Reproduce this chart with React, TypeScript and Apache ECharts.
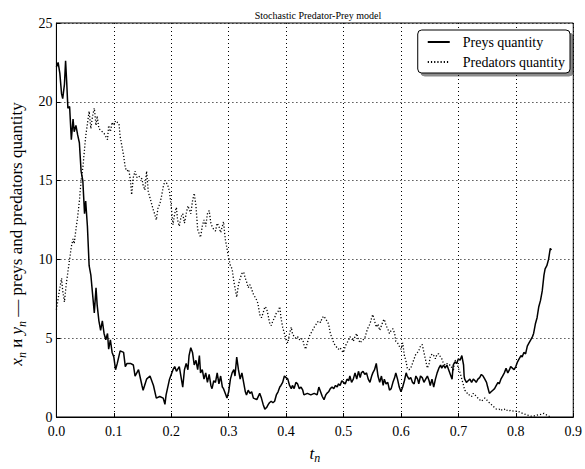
import React, { useEffect, useRef } from "react";
import * as echarts from "echarts";

const titleText = "Stochastic Predator-Prey model";
const seriesNames = ["Preys quantity", "Predators quantity"];
const xTicks = [0, 0.1, 0.2, 0.3, 0.4, 0.5, 0.6, 0.7, 0.8, 0.9];
const yTicks = [0, 5, 10, 15, 20, 25];

const preys: number[][] = [
  [0, 22.2], [0.003, 22.5], [0.006, 21.8], [0.009, 20.5], [0.011, 20.2], [0.014, 21.1], [0.016, 22.6], [0.018, 21.2],
  [0.02, 19.6], [0.023, 19.7], [0.026, 17.6], [0.029, 18.9], [0.031, 18.1], [0.034, 18.5], [0.037, 17.9], [0.04, 17.4],
  [0.043, 15.6], [0.046, 15.0], [0.049, 12.9], [0.051, 13.7], [0.054, 12.1], [0.057, 9.6], [0.06, 9.0], [0.063, 7.8],
  [0.066, 6.6], [0.069, 8.2], [0.071, 7.1], [0.074, 6.1], [0.077, 5.5], [0.08, 6.1], [0.083, 5.3], [0.086, 4.9],
  [0.089, 5.3], [0.091, 4.3], [0.094, 4.9], [0.097, 4.1], [0.1, 3.8], [0.103, 3.0], [0.106, 3.4], [0.111, 4.2],
  [0.117, 4.1], [0.12, 3.2], [0.123, 3.4], [0.129, 3.4], [0.134, 3.3], [0.137, 2.6], [0.143, 3.0], [0.149, 2.0],
  [0.151, 1.7], [0.157, 2.4], [0.163, 2.6], [0.169, 2.0], [0.174, 1.2], [0.18, 1.3], [0.186, 1.2], [0.189, 0.8],
  [0.191, 1.4], [0.197, 2.4], [0.203, 3.0], [0.206, 3.2], [0.209, 2.9], [0.214, 3.2], [0.22, 1.9], [0.223, 3.0],
  [0.226, 3.4], [0.229, 3.0], [0.231, 3.9], [0.234, 4.4], [0.237, 4.1], [0.24, 3.3], [0.243, 3.6], [0.246, 3.0],
  [0.249, 3.9], [0.251, 2.8], [0.254, 3.0], [0.257, 2.4], [0.26, 2.8], [0.263, 2.2], [0.266, 2.7], [0.269, 2.0],
  [0.271, 1.8], [0.274, 2.3], [0.277, 2.2], [0.28, 2.8], [0.283, 2.1], [0.286, 2.6], [0.289, 1.9], [0.291, 1.8],
  [0.294, 1.5], [0.297, 1.2], [0.3, 1.6], [0.303, 2.4], [0.306, 2.8], [0.309, 3.0], [0.311, 2.6], [0.314, 3.8],
  [0.317, 3.0], [0.32, 2.4], [0.323, 2.8], [0.326, 2.2], [0.329, 1.6], [0.331, 1.4], [0.334, 1.7], [0.337, 1.5],
  [0.34, 1.6], [0.343, 1.2], [0.349, 1.1], [0.354, 1.5], [0.357, 1.2], [0.36, 0.8], [0.363, 0.5], [0.366, 0.6],
  [0.369, 0.8], [0.371, 0.9], [0.374, 1.0], [0.377, 0.9], [0.38, 1.0], [0.383, 1.4], [0.386, 1.6], [0.389, 1.9],
  [0.391, 2.0], [0.394, 2.2], [0.397, 2.6], [0.4, 2.5], [0.403, 2.4], [0.406, 2.0], [0.409, 1.8], [0.411, 2.0],
  [0.414, 1.8], [0.417, 2.2], [0.42, 2.1], [0.423, 1.8], [0.426, 1.9], [0.429, 1.7], [0.431, 1.4], [0.437, 1.5],
  [0.443, 1.4], [0.449, 1.5], [0.454, 1.4], [0.457, 1.9], [0.46, 1.6], [0.463, 1.3], [0.466, 1.1], [0.469, 1.4],
  [0.471, 1.5], [0.474, 1.6], [0.477, 1.8], [0.48, 1.9], [0.483, 1.8], [0.486, 2.0], [0.489, 1.9], [0.491, 2.1],
  [0.494, 2.0], [0.497, 2.3], [0.5, 2.2], [0.503, 2.1], [0.506, 2.4], [0.509, 2.3], [0.511, 2.6], [0.514, 2.2],
  [0.517, 2.4], [0.52, 2.8], [0.523, 2.4], [0.526, 2.9], [0.529, 2.5], [0.531, 2.8], [0.534, 2.9], [0.537, 2.7],
  [0.54, 2.8], [0.543, 2.4], [0.546, 2.2], [0.549, 2.6], [0.551, 2.8], [0.554, 3.0], [0.557, 3.4], [0.56, 2.6],
  [0.563, 2.2], [0.566, 2.6], [0.569, 2.0], [0.571, 2.4], [0.574, 2.1], [0.577, 2.2], [0.58, 1.7], [0.583, 1.8],
  [0.586, 2.2], [0.589, 2.5], [0.591, 2.8], [0.594, 2.4], [0.597, 1.9], [0.6, 1.6], [0.603, 1.9], [0.606, 2.3],
  [0.609, 2.8], [0.611, 2.6], [0.614, 2.4], [0.617, 2.5], [0.62, 2.2], [0.623, 2.1], [0.626, 2.6], [0.629, 2.4],
  [0.631, 2.1], [0.634, 2.6], [0.637, 2.5], [0.64, 2.2], [0.643, 2.4], [0.646, 2.6], [0.649, 2.3], [0.651, 2.0],
  [0.654, 2.4], [0.657, 1.9], [0.66, 2.4], [0.663, 2.8], [0.666, 3.1], [0.669, 3.3], [0.671, 3.1], [0.674, 3.3],
  [0.677, 3.1], [0.68, 3.3], [0.683, 3.0], [0.686, 2.7], [0.689, 2.4], [0.691, 3.3], [0.694, 3.5], [0.697, 3.4],
  [0.7, 3.7], [0.703, 3.6], [0.706, 3.9], [0.709, 3.3], [0.71, 2.6], [0.711, 2.4], [0.714, 2.2], [0.717, 2.3],
  [0.72, 2.4], [0.723, 2.2], [0.726, 2.4], [0.729, 2.3], [0.731, 2.2], [0.734, 2.4], [0.737, 2.5], [0.74, 2.7],
  [0.743, 2.6], [0.746, 2.4], [0.749, 2.2], [0.751, 1.9], [0.754, 1.5], [0.757, 1.6], [0.76, 1.7], [0.763, 1.8],
  [0.766, 2.0], [0.769, 2.2], [0.771, 2.1], [0.774, 2.4], [0.777, 2.6], [0.78, 2.8], [0.783, 3.1], [0.786, 2.8],
  [0.789, 3.0], [0.791, 3.2], [0.794, 3.1], [0.797, 3.0], [0.8, 3.2], [0.803, 3.5], [0.806, 3.7], [0.809, 3.9],
  [0.811, 3.8], [0.814, 4.1], [0.817, 4.0], [0.82, 4.5], [0.823, 4.7], [0.826, 4.9], [0.829, 5.1], [0.831, 5.3],
  [0.834, 5.9], [0.837, 6.3], [0.84, 7.0], [0.843, 7.4], [0.846, 8.0], [0.849, 9.0], [0.851, 9.4], [0.854, 9.6],
  [0.857, 10.0], [0.86, 10.7], [0.862, 10.6],
];

const predators: number[][] = [
  [0, 6.8], [0.003, 7.5], [0.006, 8.2], [0.009, 8.8], [0.011, 8.0], [0.014, 7.3], [0.017, 8.4], [0.02, 9.2],
  [0.023, 10.0], [0.026, 10.8], [0.029, 11.3], [0.031, 11.0], [0.034, 11.9], [0.037, 12.7], [0.04, 13.7], [0.043, 15.0],
  [0.046, 15.8], [0.049, 17.0], [0.051, 17.8], [0.054, 18.6], [0.057, 19.4], [0.06, 18.3], [0.063, 19.1], [0.066, 19.6],
  [0.069, 18.5], [0.071, 19.1], [0.074, 18.3], [0.077, 18.2], [0.083, 18.0], [0.089, 17.6], [0.091, 18.5], [0.094, 18.1],
  [0.097, 18.7], [0.1, 18.5], [0.103, 18.8], [0.106, 18.7], [0.109, 18.6], [0.111, 17.8], [0.114, 17.2], [0.117, 16.6],
  [0.12, 15.8], [0.123, 15.6], [0.126, 15.7], [0.129, 15.0], [0.131, 14.1], [0.134, 15.2], [0.137, 15.6], [0.14, 15.2],
  [0.143, 15.3], [0.146, 15.2], [0.149, 15.1], [0.151, 14.7], [0.154, 14.4], [0.157, 15.6], [0.16, 14.3], [0.163, 13.9],
  [0.166, 13.5], [0.169, 13.1], [0.171, 12.9], [0.174, 12.5], [0.177, 13.3], [0.18, 13.5], [0.183, 14.0], [0.186, 14.6],
  [0.189, 15.0], [0.191, 14.9], [0.194, 14.7], [0.197, 14.3], [0.2, 13.3], [0.203, 12.2], [0.206, 12.9], [0.209, 13.3],
  [0.211, 12.5], [0.214, 12.1], [0.217, 12.7], [0.22, 12.9], [0.223, 12.3], [0.226, 12.9], [0.229, 13.4], [0.231, 13.2],
  [0.234, 12.9], [0.237, 13.7], [0.24, 14.2], [0.243, 13.4], [0.246, 11.9], [0.249, 11.6], [0.251, 11.4], [0.254, 12.1],
  [0.257, 12.5], [0.26, 12.1], [0.263, 12.9], [0.266, 13.1], [0.269, 12.3], [0.271, 12.1], [0.274, 11.9], [0.277, 11.8],
  [0.28, 12.3], [0.283, 12.1], [0.286, 11.7], [0.289, 12.1], [0.291, 12.4], [0.294, 11.3], [0.297, 10.7], [0.3, 10.1],
  [0.303, 9.6], [0.306, 9.4], [0.309, 8.6], [0.311, 8.2], [0.314, 7.6], [0.317, 8.4], [0.32, 8.8], [0.323, 9.1],
  [0.326, 9.2], [0.329, 8.8], [0.331, 8.6], [0.334, 8.2], [0.337, 8.4], [0.34, 8.1], [0.343, 7.8], [0.346, 7.6],
  [0.349, 7.4], [0.351, 7.2], [0.354, 6.5], [0.357, 6.3], [0.36, 6.6], [0.363, 7.0], [0.366, 6.9], [0.369, 6.4],
  [0.371, 6.0], [0.374, 5.8], [0.377, 6.1], [0.38, 6.3], [0.383, 6.6], [0.386, 6.7], [0.389, 7.0], [0.391, 6.3],
  [0.394, 5.7], [0.397, 5.3], [0.4, 4.9], [0.403, 4.7], [0.406, 5.3], [0.409, 5.7], [0.411, 5.3], [0.414, 5.1],
  [0.417, 5.0], [0.42, 5.1], [0.423, 4.9], [0.426, 5.0], [0.429, 4.9], [0.431, 4.6], [0.434, 4.3], [0.437, 4.7],
  [0.44, 5.1], [0.443, 5.3], [0.446, 5.5], [0.449, 5.7], [0.451, 5.8], [0.454, 6.0], [0.457, 6.1], [0.46, 6.0],
  [0.463, 6.3], [0.466, 6.4], [0.469, 6.2], [0.471, 6.1], [0.474, 5.9], [0.477, 5.3], [0.48, 5.0], [0.483, 4.7],
  [0.486, 4.5], [0.489, 4.4], [0.491, 4.3], [0.494, 4.4], [0.497, 4.2], [0.5, 4.1], [0.503, 4.5], [0.506, 4.7],
  [0.509, 4.9], [0.511, 5.1], [0.514, 5.0], [0.517, 4.8], [0.52, 5.1], [0.523, 5.3], [0.526, 4.9], [0.529, 4.7],
  [0.531, 4.8], [0.534, 4.9], [0.537, 5.0], [0.54, 5.4], [0.543, 5.7], [0.546, 5.9], [0.549, 6.3], [0.551, 6.5],
  [0.554, 6.1], [0.557, 5.7], [0.56, 5.9], [0.563, 5.5], [0.566, 5.8], [0.569, 6.1], [0.571, 6.2], [0.574, 5.8],
  [0.577, 5.6], [0.58, 5.3], [0.583, 5.5], [0.586, 5.6], [0.589, 5.3], [0.591, 4.8], [0.594, 4.7], [0.597, 4.5],
  [0.6, 4.3], [0.603, 4.7], [0.606, 3.9], [0.609, 3.5], [0.611, 3.1], [0.614, 3.0], [0.617, 3.1], [0.62, 3.4],
  [0.623, 3.7], [0.626, 4.0], [0.629, 4.1], [0.631, 4.2], [0.634, 4.5], [0.637, 4.6], [0.64, 4.1], [0.643, 3.6],
  [0.646, 3.1], [0.649, 3.4], [0.651, 3.8], [0.654, 4.0], [0.657, 3.9], [0.66, 3.7], [0.663, 4.0], [0.666, 4.0],
  [0.669, 3.8], [0.671, 3.7], [0.674, 3.4], [0.677, 3.3], [0.68, 3.4], [0.683, 3.3], [0.686, 3.3], [0.689, 3.1],
  [0.691, 2.9], [0.694, 3.6], [0.697, 3.5], [0.7, 3.1], [0.703, 2.8], [0.706, 2.4], [0.709, 2.0], [0.711, 1.7],
  [0.714, 1.6], [0.717, 1.4], [0.72, 1.4], [0.723, 1.3], [0.726, 1.5], [0.729, 1.4], [0.731, 1.3], [0.734, 1.2],
  [0.737, 1.1], [0.74, 1.0], [0.743, 1.1], [0.746, 1.2], [0.749, 1.1], [0.751, 1.0], [0.754, 0.9], [0.757, 0.8],
  [0.76, 0.7], [0.763, 0.6], [0.766, 0.5], [0.769, 0.5], [0.771, 0.5], [0.774, 0.4], [0.777, 0.5], [0.78, 0.5],
  [0.783, 0.4], [0.786, 0.45], [0.789, 0.4], [0.791, 0.42], [0.794, 0.37], [0.797, 0.4], [0.8, 0.37], [0.803, 0.37],
  [0.806, 0.33], [0.809, 0.27], [0.814, 0.2], [0.82, 0.12], [0.826, 0.06], [0.831, 0.06], [0.837, 0.12], [0.843, 0.16],
  [0.849, 0.23], [0.851, 0.2], [0.854, 0.12], [0.857, 0.06], [0.86, 0.02],
];

const FONT = "'Liberation Serif', 'DejaVu Serif', serif";

export default function App() {
  const ref = useRef<HTMLDivElement>(null);
  useEffect(() => {
    if (!ref.current) return;
    const chart = echarts.init(ref.current, null, { renderer: "svg" });
    const axisCommon = {
      axisLine: { show: true, lineStyle: { color: "#000", width: 1 } },
      axisTick: { show: true, inside: true, length: 4, lineStyle: { color: "#000" } },
      splitLine: { show: true, lineStyle: { color: "#000", width: 1, type: [1, 3] as any } },
      axisLabel: { color: "#000", fontFamily: FONT, fontSize: 14 },
    };
    chart.setOption({
      animation: false,
      backgroundColor: "#fff",
      title: {
        text: titleText,
        left: 313,
        textAlign: "center",
        top: 5,
        textStyle: { fontFamily: FONT, fontSize: 10, fontWeight: "normal", color: "#000" },
      },
      grid: { left: 52, right: 8, top: 23, bottom: 40, show: true, borderColor: "#000", borderWidth: 1 },
      legend: {
        orient: "vertical",
        right: 15,
        top: 30,
        data: seriesNames,
        itemWidth: 22,
        itemHeight: 14,
        itemGap: 6,
        padding: [5, 5, 4, 9],
        backgroundColor: "#fff",
        borderColor: "#000",
        borderWidth: 1,
        borderRadius: 4,
        shadowColor: "rgba(0,0,0,0.45)",
        shadowBlur: 1,
        shadowOffsetX: 3,
        shadowOffsetY: 3,
        itemStyle: { opacity: 0 },
        textStyle: { fontFamily: FONT, fontSize: 14, color: "#000", padding: [0, 0, 0, 8] },
      },
      xAxis: {
        type: "value",
        min: xTicks[0],
        max: xTicks[xTicks.length - 1],
        interval: 0.1,
        ...axisCommon,
        axisLabel: {
          ...axisCommon.axisLabel,
          margin: 7,
          formatter: (v: number) => v.toFixed(1),
          showMinLabel: true,
          showMaxLabel: true,
        },
        name: "{i|t}{s|n}",
        nameLocation: "middle",
        nameGap: 25,
        nameTextStyle: {
          rich: {
            i: { fontFamily: FONT, fontSize: 17, fontStyle: "italic", color: "#000", lineHeight: 22, verticalAlign: "middle" },
            s: { fontFamily: FONT, fontSize: 12, fontStyle: "italic", color: "#000", lineHeight: 12, verticalAlign: "bottom" },
          },
        },
      },
      yAxis: {
        type: "value",
        min: yTicks[0],
        max: yTicks[yTicks.length - 1],
        interval: 5,
        ...axisCommon,
        axisLabel: { ...axisCommon.axisLabel, margin: 4, padding: [0, 0, 4, 0] },
        name: "{i|x}{s|n}{r| и }{i|y}{s|n}{r| — preys and predators quantity}",
        nameLocation: "middle",
        nameRotate: 90,
        nameGap: 26,
        nameTextStyle: {
          padding: [0, 28, 0, 0],
          rich: {
            i: { fontFamily: FONT, fontSize: 17, fontStyle: "italic", color: "#000", lineHeight: 22, verticalAlign: "middle" },
            s: { fontFamily: FONT, fontSize: 12, fontStyle: "italic", color: "#000", lineHeight: 12, verticalAlign: "bottom" },
            r: { fontFamily: FONT, fontSize: 17, color: "#000", lineHeight: 22, verticalAlign: "middle" },
          },
        },
      },
      series: [
        {
          name: seriesNames[0],
          type: "line",
          data: preys,
          showSymbol: false,
          symbol: "none",
          lineStyle: { color: "#000", width: 1.5, type: "solid" },
          itemStyle: { color: "#000" },
          z: 3,
        },
        {
          name: seriesNames[1],
          type: "line",
          data: predators,
          showSymbol: false,
          symbol: "none",
          lineStyle: { color: "#000", width: 1.3, type: [1.2, 2] },
          itemStyle: { color: "#000" },
          z: 2,
        },
      ],
    });
    return () => chart.dispose();
  }, []);
  return <div ref={ref} style={{ width: 585, height: 469, position: "absolute", left: 0, top: 0 }} />;
}
